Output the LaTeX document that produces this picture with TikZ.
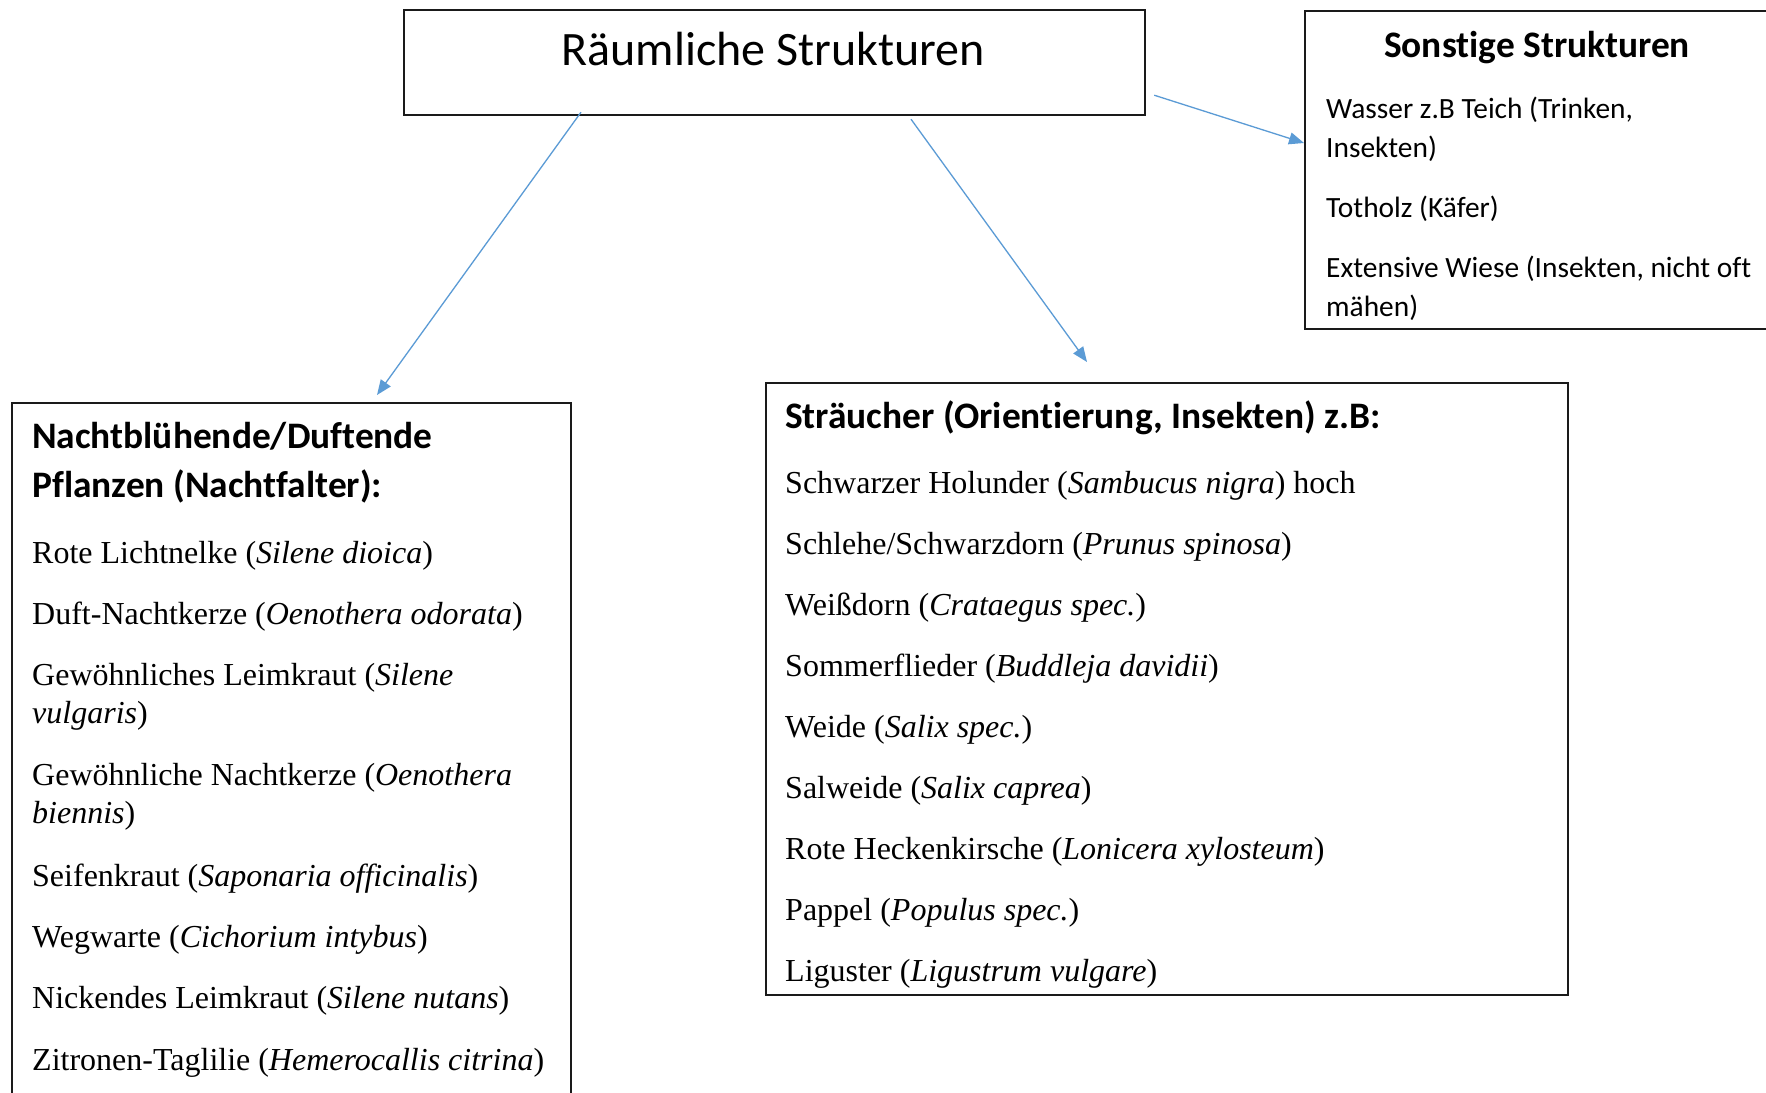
\documentclass[tikz,border=0pt]{standalone}
\usepackage{fontspec}
\setmainfont{Liberation Serif}
\newfontfamily\calfont[Ligatures=NoCommon]{Carlito}
\usetikzlibrary{arrows.meta,calc}
\definecolor{arrowblue}{HTML}{5B9BD5}
\definecolor{boxline}{HTML}{1A1A1A}
\begin{document}
\begin{tikzpicture}[x=1pt,y=-1pt,
  box/.style={draw=boxline, line width=1.5pt, rectangle, inner sep=0pt, anchor=north west},
  tline/.style={anchor=base west, inner sep=0pt, font=\fontsize{32}{38}\selectfont},
  cline/.style={anchor=base west, inner sep=0pt, font=\calfont\fontsize{29.4}{35}\selectfont},
  head/.style={anchor=base west, inner sep=0pt, font=\calfont\bfseries\fontsize{37.4}{45}\selectfont},
  conn/.style={draw=arrowblue, line width=1.3pt, -{Triangle[length=15pt,width=12pt]}}
]
\useasboundingbox (0,0) rectangle (1766,1092);
\clip (0,0) rectangle (1766,1092);
\fill[white] (0,0) rectangle (1766,1092);

% boxes
\node[box, line width=2.2pt, minimum width=741pt, minimum height=105pt] (top) at (403,9) {};
\node[box, minimum width=559pt, minimum height=720pt] (left) at (11,402) {};
\node[box, minimum width=802pt, minimum height=612pt] (mid) at (765,382) {};
\node[box, minimum width=480pt, minimum height=318pt] (other) at (1304,10) {};

% title
\node[anchor=base, inner sep=0pt, font=\calfont\fontsize{48}{58}\selectfont] (title) at (773,65) {Räumliche Strukturen};

% other structures
\node[anchor=base, inner sep=0pt, font=\calfont\bfseries\fontsize{37.4}{45}\selectfont] (oh) at (1537,57) {Sonstige Strukturen};
\node[cline] (o1) at (1326,118) {Wasser z.B Teich (Trinken,};
\node[cline] (o2) at (1326,157) {Insekten)};
\node[cline] (o3) at (1326,217) {Totholz (Käfer)};
\node[cline] (o4) at (1326,277) {Extensive Wiese (Insekten, nicht oft};
\node[cline] (o5) at (1326,316) {mähen)};

% left box
\node[head] (lh1) at (32,448) {Nachtblühende/Duftende};
\node[head] (lh2) at (32,497) {Pflanzen (Nachtfalter):};
\node[tline] (l1) at (32,563) {Rote Lichtnelke (\textit{Silene dioica})};
\node[tline] (l2) at (32,624) {Duft-Nachtkerze (\textit{Oenothera odorata})};
\node[tline] (l3) at (32,685) {Gewöhnliches Leimkraut (\textit{Silene}};
\node[tline] (l3b) at (32,723) {\textit{vulgaris})};
\node[tline] (l4) at (32,785) {Gewöhnliche Nachtkerze (\textit{Oenothera}};
\node[tline] (l4b) at (32,823) {\textit{biennis})};
\node[tline] (l5) at (32,886) {Seifenkraut (\textit{Saponaria officinalis})};
\node[tline] (l6) at (32,947) {Wegwarte (\textit{Cichorium intybus})};
\node[tline] (l7) at (32,1008) {Nickendes Leimkraut (\textit{Silene nutans})};
\node[tline] (l8) at (32,1070) {Zitronen-Taglilie (\textit{Hemerocallis citrina})};

% middle box
\node[head] (mh) at (785,428) {Sträucher (Orientierung, Insekten) z.B:};
\node[tline] (m1) at (785,493) {Schwarzer Holunder (\textit{Sambucus nigra}) hoch};
\node[tline] (m2) at (785,554) {Schlehe/Schwarzdorn (\textit{Prunus spinosa})};
\node[tline] (m3) at (785,615) {Weißdorn (\textit{Crataegus spec.})};
\node[tline] (m4) at (785,676) {Sommerflieder (\textit{Buddleja davidii})};
\node[tline] (m5) at (785,737) {Weide (\textit{Salix spec.})};
\node[tline] (m6) at (785,798) {Salweide (\textit{Salix caprea})};
\node[tline] (m7) at (785,859) {Rote Heckenkirsche (\textit{Lonicera xylosteum})};
\node[tline] (m8) at (785,920) {Pappel (\textit{Populus spec.})};
\node[tline] (m9) at (785,981) {Liguster (\textit{Ligustrum vulgare})};

% connectors
\coordinate (a1s) at ($(top.south west)+(178,-4)$);
\coordinate (a1e) at ($(left.north west)+(366,-7)$);
\coordinate (a2s) at ($(top.south west)+(508,3)$);
\coordinate (a2e) at ($(mid.north west)+(322,-20)$);
\coordinate (a3s) at ($(top.south east)+(8,-21)$);
\coordinate (a3e) at ($(other.north west)+(0,133)$);
\draw[conn] (a1s) -- (a1e);
\draw[conn] (a2s) -- (a2e);
\draw[conn] (a3s) -- (a3e);
\end{tikzpicture}
\end{document}
